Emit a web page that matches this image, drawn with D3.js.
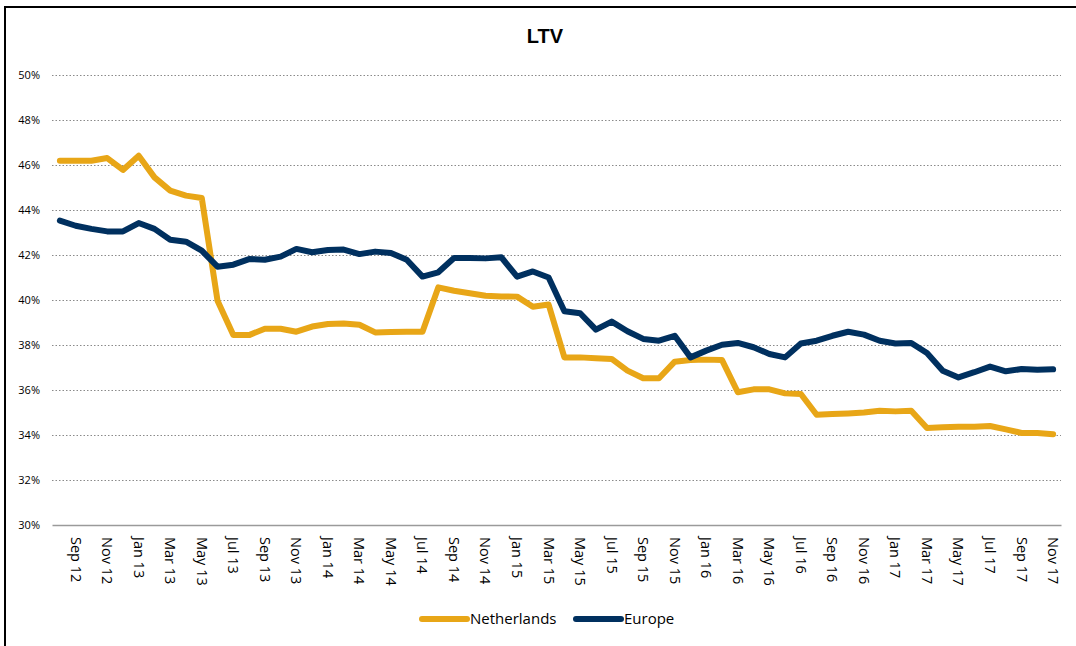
<!DOCTYPE html>
<html>
<head>
<meta charset="utf-8">
<script src="https://cdn.jsdelivr.net/npm/d3@7"></script>
<style>
  body { margin: 0; background: #fff; }
  svg { display: block; }
</style>
</head>
<body>
<div id="chart"></div>
<script>
// monthly points, Aug 12 .. Nov 17
const months = [
  "Aug 12","Sep 12","Oct 12","Nov 12","Dec 12",
  "Jan 13","Feb 13","Mar 13","Apr 13","May 13","Jun 13","Jul 13","Aug 13","Sep 13","Oct 13","Nov 13","Dec 13",
  "Jan 14","Feb 14","Mar 14","Apr 14","May 14","Jun 14","Jul 14","Aug 14","Sep 14","Oct 14","Nov 14","Dec 14",
  "Jan 15","Feb 15","Mar 15","Apr 15","May 15","Jun 15","Jul 15","Aug 15","Sep 15","Oct 15","Nov 15","Dec 15",
  "Jan 16","Feb 16","Mar 16","Apr 16","May 16","Jun 16","Jul 16","Aug 16","Sep 16","Oct 16","Nov 16","Dec 16",
  "Jan 17","Feb 17","Mar 17","Apr 17","May 17","Jun 17","Jul 17","Aug 17","Sep 17","Oct 17","Nov 17"
]

const tickLabels = [
  "Sep 12","Nov 12","Jan 13","Mar 13","May 13","Jul 13","Sep 13","Nov 13",
  "Jan 14","Mar 14","May 14","Jul 14","Sep 14","Nov 14","Jan 15","Mar 15",
  "May 15","Jul 15","Sep 15","Nov 15","Jan 16","Mar 16","May 16","Jul 16",
  "Sep 16","Nov 16","Jan 17","Mar 17","May 17","Jul 17","Sep 17","Nov 17"
]

const yTicks = [30, 32, 34, 36, 38, 40, 42, 44, 46, 48, 50]

const netherlands = [
  46.19, 46.19, 46.19, 46.31, 45.78, 46.41, 45.45, 44.86, 44.64, 44.53,
  39.97, 38.44, 38.44, 38.72, 38.72, 38.59, 38.82, 38.93, 38.96, 38.90,
  38.56, 38.58, 38.59, 38.59, 40.56, 40.41, 40.30, 40.19, 40.16, 40.15,
  39.70, 39.80, 37.45, 37.45, 37.41, 37.38, 36.86, 36.52, 36.52, 37.26,
  37.33, 37.35, 37.33, 35.90, 36.03, 36.03, 35.85, 35.82, 34.90, 34.93,
  34.96, 35.00, 35.08, 35.05, 35.08, 34.31, 34.34, 34.37, 34.37, 34.40,
  34.25, 34.09, 34.09, 34.03
]

const europe = [
  43.53, 43.30, 43.16, 43.05, 43.05, 43.42, 43.16, 42.68, 42.59, 42.19,
  41.48, 41.57, 41.82, 41.79, 41.93, 42.27, 42.12, 42.22, 42.24, 42.04,
  42.15, 42.09, 41.79, 41.04, 41.23, 41.87, 41.87, 41.85, 41.90, 41.04,
  41.27, 41.00, 39.50, 39.41, 38.68, 39.04, 38.61, 38.27, 38.19, 38.41,
  37.45, 37.75, 38.01, 38.09, 37.90, 37.60, 37.45, 38.07, 38.19, 38.41,
  38.59, 38.46, 38.19, 38.07, 38.09, 37.64, 36.86, 36.56, 36.79, 37.04,
  36.83, 36.93, 36.90, 36.92
]

const seriesNames = ["Netherlands", "Europe"]
const seriesColors = ["#E8A617", "#00305F"]

let svgWidth = 1076
let svgHeight = 646
const plotLeft = 52
const plotRight = 1061

const svg = d3.select("#chart").append("svg")
    .attr("width", svgWidth)
    .attr("height", svgHeight)

// outer frame (runs off the right and bottom edges)
svg.append("rect")
    .attr("x", 5)
    .attr("y", 7)
    .attr("width", 1200)
    .attr("height", 800)
    .attr("fill", "none")
    .attr("stroke", "#000")
    .attr("stroke-width", 2)

svg.append("text")
    .attr("x", 545)
    .attr("y", 43)
    .attr("text-anchor", "middle")
    .attr("font-family", "Liberation Sans, Arial, sans-serif")
    .attr("font-weight", "bold")
    .attr("font-size", 20)
    .text("LTV")

const x = d3.scaleBand()
    .domain(months)
    .range([plotLeft, plotRight])
    .paddingInner(0)
    .paddingOuter(0)

const y = d3.scaleLinear()
    .domain([30, 50])
    .range([525, 75])

// dotted gridlines
svg.append("g")
    .selectAll("line")
    .data(yTicks.slice(1))
    .enter()
    .append("line")
    .attr("x1", plotLeft)
    .attr("x2", plotRight)
    .attr("y1", d => y(d) + 0.5)
    .attr("y2", d => y(d) + 0.5)
    .attr("stroke", "#8a8a8a")
    .attr("stroke-width", 1)
    .attr("stroke-dasharray", "1.5,2")

// y axis labels
const yAxis = svg.append("g")
    .attr("transform", `translate(${plotLeft},0)`)
    .call(d3.axisLeft(y).tickValues(yTicks).tickSize(0).tickPadding(12).tickFormat(d => d + "%"))

yAxis.select(".domain").remove()
yAxis.selectAll("text")
    .attr("font-family", "Open Sans, sans-serif")
    .attr("font-size", 11)
    .attr("fill", "#000")

// x axis
const xAxis = svg.append("g")
    .attr("transform", "translate(0,525)")
    .call(d3.axisBottom(x).tickValues(tickLabels).tickSize(0).tickSizeOuter(0))

xAxis.select(".domain")
    .attr("stroke", "#9a9a9a")
    .attr("stroke-width", 1.5)

xAxis.selectAll("text")
    .attr("x", 0)
    .attr("y", 0)
    .attr("dy", "0.35em")
    .attr("transform", "translate(0,12) rotate(90)")
    .attr("text-anchor", "start")
    .attr("font-family", "Open Sans, sans-serif")
    .attr("font-size", 14.5)
    .attr("fill", "#000")

const line = d3.line()
    .x((d, i) => x(months[i]) + x.bandwidth() / 2)
    .y(d => y(d))

function drawSeries(values, color) {
    svg.append("path")
        .datum(values)
        .attr("d", line)
        .attr("fill", "none")
        .attr("stroke", color)
        .attr("stroke-width", 6)
        .attr("stroke-linejoin", "round")
        .attr("stroke-linecap", "round")
}

drawSeries(netherlands, seriesColors[0])
drawSeries(europe, seriesColors[1])

// legend
const legendX = [422, 576]
const legend = svg.append("g")
    .selectAll("g")
    .data(seriesNames)
    .enter()
    .append("g")
    .attr("transform", (d, i) => `translate(${legendX[i]},619)`)

legend.append("line")
    .attr("x1", 0)
    .attr("x2", 45)
    .attr("stroke", (d, i) => seriesColors[i])
    .attr("stroke-width", 6)
    .attr("stroke-linecap", "round")

legend.append("text")
    .attr("x", 48)
    .attr("y", 5)
    .attr("font-family", "Open Sans, sans-serif")
    .attr("font-size", 15)
    .attr("fill", "#000")
    .text(d => d)
</script>
</body>
</html>
